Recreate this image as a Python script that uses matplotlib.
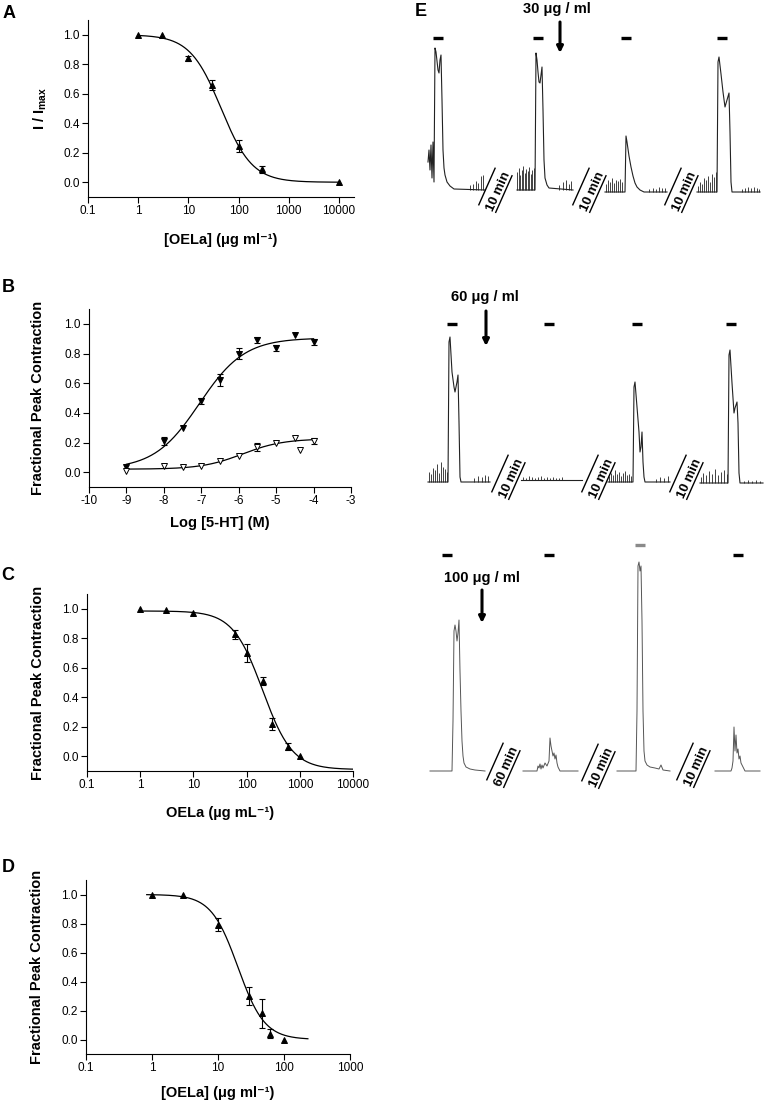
# Five-panel figure: dose-response curves (A-D) and contraction traces (E)

import numpy as np
import matplotlib
matplotlib.use("Agg")
from matplotlib import pyplot as plt
from matplotlib.ticker import FixedLocator, FixedFormatter, NullLocator

plt.rcParams['font.family'] = ['Liberation Sans', 'DejaVu Sans']
plt.rcParams['mathtext.fontset'] = 'custom'
plt.rcParams['mathtext.rm'] = 'Liberation Sans'
plt.rcParams['mathtext.bf'] = 'Liberation Sans:bold'
plt.rcParams['axes.unicode_minus'] = False

# --- DATA ---
# panel A: I / Imax against [OELa]
a_conc = [1, 3, 10, 30, 100, 300, 10000]
a_resp = [1.0, 0.995, 0.84, 0.66, 0.247, 0.087, 0.0]
a_err = [0, 0, 0.015, 0.035, 0.04, 0.025, 0]
a_fit = [1.0, 0.0, 45.0, 1.4]          # top, bottom, IC50, hill

# panel B: 5-HT concentration response, control and with OELa
b_logc = [-9, -8, -7.5, -7, -6.5, -6, -5.5, -5, -4.5, -4]
b_ctrl = [0.036, 0.21, 0.295, 0.48, 0.62, 0.80, 0.89, 0.835, 0.928, 0.876]
b_ctrl_err = [0, 0.03, 0, 0.02, 0.04, 0.04, 0.02, 0.02, 0, 0.02]
b_oela_logc = [-9, -8, -7.5, -7, -6.5, -6, -5.5, -5, -4.5, -4.35, -4]
b_oela = [0.005, 0.04, 0.035, 0.04, 0.075, 0.11, 0.17, 0.20, 0.228, 0.15, 0.21]
b_oela_err = [0, 0, 0, 0, 0, 0, 0.03, 0, 0, 0, 0.02]
b_ctrl_fit = [0.905, 0.02, -7.05, 0.72]     # top, bottom, logEC50, hill
b_oela_fit = [0.225, 0.02, -5.9, 0.8]

# panel C
c_conc = [1, 3, 10, 60, 100, 200, 300, 600, 1000]
c_resp = [1.0, 0.99, 0.97, 0.826, 0.70, 0.51, 0.22, 0.065, 0.0]
c_err = [0, 0, 0, 0.03, 0.06, 0.03, 0.04, 0.025, 0]
c_fit = [0.985, -0.09, 200.0, 1.55]

# panel D
d_conc = [1, 3, 10, 30, 46, 62, 100]
d_resp = [1.0, 1.0, 0.79, 0.30, 0.18, 0.04, 0.0]
d_err = [0, 0, 0.045, 0.065, 0.10, 0.03, 0]
d_fit = [1.0, 0.0, 20.0, 2.15]

# panel E traces: t = time offset, a = amplitude above baseline,
# st / sh = baseline spontaneous spikes (time, height)
e1a = dict(t=[0, 1, 2, 3, 4, 5, 6, 7, 8, 10, 11, 12, 13, 14, 15, 16, 17, 19, 22, 26, 57],
           a=[28, 40, 20, 45, 12, 48, 8, 142, 138, 120, 117, 130, 135, 90, 40, 22, 15, 8, 4, 1, 0],
           st=[42, 45, 48, 50, 53, 55], sh=[5, 6, 9, 7, 14, 15])
e1b = dict(t=[0, 18, 19, 20, 21, 22, 23, 24, 25, 26, 27, 28, 30, 32, 56],
           a=[0, 0, 137, 130, 118, 108, 107, 115, 123, 80, 30, 12, 5, 2, 0],
           st=[0, 1.5, 3, 4.5, 6, 7.5, 9, 10.5, 12, 13.5, 15, 16.5, 42, 46, 49, 52, 54],
           sh=[18, 22, 15, 20, 24, 17, 21, 19, 23, 16, 20, 22, 5, 8, 10, 6, 9])
e1c = dict(t=[0, 20, 21, 22, 24, 26, 28, 30, 32, 35, 39, 62],
           a=[0, 0, 56, 50, 36, 25, 16, 9, 5, 2, 0, 0],
           st=[1, 3, 5, 7, 9, 11, 13, 15, 17, 44, 48, 51, 54, 57, 60],
           sh=[8, 12, 10, 14, 9, 12, 11, 13, 10, 3, 4, 3, 5, 4, 4])
e1d = dict(t=[0, 20, 21, 22, 24, 26, 28, 30, 32, 33, 34, 35, 63],
           a=[0, 0, 130, 135, 118, 100, 85, 92, 99, 60, 10, 0, 0],
           st=[1, 3, 5, 7, 9, 11, 13, 15, 17, 19, 45, 48, 51, 54, 57, 60, 62],
           sh=[6, 10, 8, 14, 12, 16, 10, 18, 15, 20, 3, 4, 5, 4, 5, 4, 3])

e2a = dict(t=[0, 20, 21, 22, 24, 26, 27, 29, 30, 31, 32, 33, 62],
           a=[0, 0, 140, 145, 110, 95, 90, 100, 107, 60, 5, 0, 0],
           st=[1, 3, 5, 7, 9, 11, 13, 15, 17, 19, 46, 50, 54, 57, 60],
           sh=[10, 8, 14, 12, 18, 9, 20, 15, 13, 10, 4, 6, 5, 7, 6])
e2b = dict(t=[0, 61], a=[0, 0],
           st=[2, 5, 8, 11, 14, 17, 20, 23, 26, 29, 32, 35, 38, 41],
           sh=[3, 2, 4, 3, 2, 3, 4, 2, 3, 2, 3, 2, 2, 3])
e2c = dict(t=[0, 25, 26, 27, 29, 31, 32, 33, 34, 35, 36, 37, 62],
           a=[0, 0, 95, 100, 75, 50, 30, 35, 50, 20, 5, 0, 0],
           st=[1, 3, 5, 7, 9, 11, 13, 15, 17, 19, 21, 23, 48, 52, 56, 60],
           sh=[6, 9, 7, 12, 8, 10, 6, 9, 11, 7, 8, 6, 3, 5, 4, 6])
e2d = dict(t=[0, 28, 29, 30, 32, 34, 35, 37, 38, 39, 40, 63],
           a=[0, 0, 128, 133, 100, 70, 75, 81, 60, 10, 0, 0],
           st=[1, 3, 6, 9, 12, 15, 18, 21, 24, 27, 44, 48, 52, 56, 60],
           sh=[6, 10, 8, 12, 9, 14, 8, 11, 13, 9, 2, 3, 2, 3, 2])

e3a = dict(t=[0, 22, 23, 24, 25, 26, 27, 28, 29, 30, 31, 32, 33, 34, 36, 40, 45, 55],
           a=[0, 0, 50, 140, 146, 140, 130, 138, 151, 100, 60, 30, 15, 8, 4, 2, 1, 0],
           st=[], sh=[])
e3b = dict(t=[0, 14, 15, 16, 17, 18, 19, 20, 22, 24, 26, 27, 28, 29, 30, 31, 32, 33, 34, 35, 37, 55],
           a=[0, 0, 5, 3, 7, 2, 6, 3, 8, 5, 10, 33, 25, 20, 15, 18, 12, 16, 8, 4, 0, 0],
           st=[], sh=[])
e3c = dict(t=[0, 19, 20, 21, 22, 23, 24, 25, 26, 27, 28, 30, 33, 38, 42, 44, 46, 53],
           a=[0, 0, 60, 205, 209, 200, 205, 150, 60, 20, 10, 6, 4, 3, 2, 6, 1, 0],
           st=[], sh=[])
e3d = dict(t=[0, 16, 17, 18, 19, 20, 21, 22, 23, 24, 25, 26, 28, 30, 45],
           a=[0, 0, 3, 10, 44, 20, 36, 18, 22, 12, 15, 8, 4, 0, 0],
           st=[], sh=[])

e_rows = [[e1a, e1b, e1c, e1d], [e2a, e2b, e2c, e2d], [e3a, e3b, e3c, e3d]]
e_gaps = [["10 min", "10 min", "10 min"],
          ["10 min", "10 min", "10 min"],
          ["60 min", "10 min", "10 min"]]
e_doses = ["30 \u03bcg / ml", "60 \u03bcg / ml", "100 \u03bcg / ml"]

# --- LAYOUT (pixel positions in the 765 x 1104 figure) ---
W, H = 765.0, 1104.0
row_x0 = [[428, 517, 605, 697], [428, 521, 608, 700], [430, 523, 617, 715]]
row_base = [[190, 190, 192, 192], [482, 480, 482, 483], [771, 771, 771, 771]]
gap_xy = [[(497, 191), (591, 191), (683, 191)],
          [(510, 478), (600, 478), (688, 478)],
          [(505, 766), (600, 767), (695, 766)]]
bar_x = [[438, 538, 626, 722], [452, 549, 637, 731], [447, 549, 640, 738]]
bar_y = [[38, 38, 38, 38], [324, 324, 324, 324], [555, 555, 545, 555]]
bar_col = [['k'] * 4, ['k'] * 4, ['k', 'k', '#8a8a8a', 'k']]
dose_xy = [(557, 9), (485, 297), (482, 578)]
arrow_pos = [(560, 22, 53), (486, 311, 346), (482, 590, 623)]
trace_col = ['#222222', '#222222', '#555555']
trace_lw = [0.8, 0.8, 0.7]


def pix_axes(left, top, right, bottom):
	return fig.add_axes([left / W, 1 - bottom / H, (right - left) / W, (bottom - top) / H])


def hill_down(x, p):
	top, bot, ic50, n = p
	return bot + (top - bot) / (1 + (x / ic50) ** n)


def hill_log(lx, p):
	top, bot, lec, n = p
	return bot + (top - bot) / (1 + 10 ** ((lec - lx) * n))


def style_axes(ax):
	ax.spines['top'].set_visible(False)
	ax.spines['right'].set_visible(False)
	for s in ['left', 'bottom']:
		ax.spines[s].set_linewidth(0.8)
	ax.set_ylim(-0.1, 1.1)
	ax.set_yticks([0.0, 0.2, 0.4, 0.6, 0.8, 1.0])
	ax.set_yticklabels(['0.0', '0.2', '0.4', '0.6', '0.8', '1.0'])


def tick_style(ax):
	ax.tick_params(direction='out', length=4, width=0.8, pad=2)
	ax.tick_params(axis='x', labelsize=8.5)
	ax.tick_params(axis='y', labelsize=8.5)


def log_ticks(ax, lo, hi, labels):
	ax.set_xscale('log')
	ax.set_xlim(lo, hi)
	decades = [float(l) for l in labels]
	ax.xaxis.set_major_locator(FixedLocator(decades))
	ax.xaxis.set_major_formatter(FixedFormatter(labels))
	ax.xaxis.set_minor_locator(NullLocator())


def points(ax, x, y, err, marker, filled=True):
	x = np.array(x, float)
	y = np.array(y, float)
	err = np.array(err, float)
	m = err > 0
	ax.errorbar(x[m], y[m], yerr=err[m], fmt='none', ecolor='k', elinewidth=0.8,
				capsize=2.5, capthick=0.8, zorder=3)
	ax.plot(x, y, marker, ms=4.5, color='k', mfc='k' if filled else 'white',
			mec='k', mew=0.7, ls='none', zorder=4)


def labels(ax, xl, yl, ly, yx):
	ax.set_xlabel(xl, fontsize=10.5, fontweight='bold')
	ax.set_ylabel(yl, fontsize=10.5, fontweight='bold')
	ax.xaxis.set_label_coords(0.5, ly)
	ax.yaxis.set_label_coords(yx, 0.5)
	ax.xaxis.label.set_va('center')
	ax.yaxis.label.set_va('center')


fig = plt.figure(figsize=(W / 100, H / 100), dpi=100)
fig.patch.set_facecolor('w')

# --- PANEL A ---
axA = pix_axes(88, 20, 354, 197)
style_axes(axA)
log_ticks(axA, 0.1, 20000, ['0.1', '1', '10', '100', '1000', '10000'])
tick_style(axA)
xs = np.logspace(0, 4, 300)
axA.plot(xs, hill_down(xs, a_fit), color='k', lw=0.9)
points(axA, a_conc, a_resp, a_err, '^')
labels(axA, '[OELa] (\u03bcg ml\u207b\u00b9)', r'I / I$_{\mathbf{max}}$', -0.243, -0.18)

# --- PANEL B ---
axB = pix_axes(89, 309, 351, 487)
style_axes(axB)
axB.set_xlim(-10, -3)
axB.set_xticks([-10, -9, -8, -7, -6, -5, -4, -3])
tick_style(axB)
xs = np.linspace(-9, -4, 300)
axB.plot(xs, hill_log(xs, b_ctrl_fit), color='k', lw=0.9)
axB.plot(xs, hill_log(xs, b_oela_fit), color='k', lw=0.9)
points(axB, b_logc, b_ctrl, b_ctrl_err, 'v')
points(axB, b_oela_logc, b_oela, b_oela_err, 'v', filled=False)
labels(axB, 'Log [5-HT] (M)', 'Fractional Peak Contraction', -0.202, -0.195)

# --- PANEL C ---
axC = pix_axes(87, 594, 353, 771)
style_axes(axC)
log_ticks(axC, 0.1, 10000, ['0.1', '1', '10', '100', '1000', '10000'])
tick_style(axC)
xs = np.logspace(0, 4, 300)
axC.plot(xs, hill_down(xs, c_fit), color='k', lw=0.9)
points(axC, c_conc, c_resp, c_err, '^')
labels(axC, 'OELa (\u00b5g mL\u207b\u00b9)', 'Fractional Peak Contraction', -0.237, -0.184)

# --- PANEL D ---
axD = pix_axes(86, 880, 350, 1054)
style_axes(axD)
log_ticks(axD, 0.1, 1000, ['0.1', '1', '10', '100', '1000'])
tick_style(axD)
xs = np.logspace(-0.08, np.log10(230), 300)
axD.plot(xs, hill_down(xs, d_fit), color='k', lw=0.9)
points(axD, d_conc, d_resp, d_err, '^')
labels(axD, '[OELa] (\u03bcg ml\u207b\u00b9)', 'Fractional Peak Contraction', -0.225, -0.186)

# --- PANEL E ---
axE = pix_axes(400, 0, 765, 830)
axE.set_xlim(400, 765)
axE.set_ylim(830, 0)
axE.axis('off')

ang = np.radians(66)
dvec = np.array([np.cos(ang), -np.sin(ang)])
nvec = np.array([-np.sin(ang), -np.cos(ang)])

for r in range(3):
	for k, tr in enumerate(e_rows[r]):
		x0 = row_x0[r][k]
		base = row_base[r][k]
		axE.plot(x0 + np.array(tr['t'], float), base - np.array(tr['a'], float),
				 color=trace_col[r], lw=trace_lw[r])
		if tr['st']:
			axE.vlines(x0 + np.array(tr['st'], float), base, base - np.array(tr['sh'], float),
					   color=trace_col[r], lw=0.6)
	for k, txt in enumerate(e_gaps[r]):
		xc, yc = gap_xy[r][k]
		c = np.array([xc, yc], float)
		axE.text(xc, yc, txt, rotation=66, ha='center', va='center_baseline',
				 fontsize=9.5, fontweight='bold', rotation_mode='anchor')
		for s, off in [(-1, 7.5), (1, 11)]:
			p0 = c + s * off * nvec - 20 * dvec
			p1 = c + s * off * nvec + 20 * dvec
			axE.plot([p0[0], p1[0]], [p0[1], p1[1]], color='k', lw=1.0)
	for k in range(len(bar_x[r])):
		axE.plot([bar_x[r][k] - 5, bar_x[r][k] + 5], [bar_y[r][k], bar_y[r][k]],
				 color=bar_col[r][k], lw=2.4, solid_capstyle='butt')
	axE.text(dose_xy[r][0], dose_xy[r][1], e_doses[r], ha='center', va='center',
			 fontsize=10.5, fontweight='bold')
	ax_x, ay0, ay1 = arrow_pos[r]
	axE.annotate('', xy=(ax_x, ay1), xytext=(ax_x, ay0),
				 arrowprops=dict(arrowstyle='-|>', lw=2.2, color='k', mutation_scale=9,
								 shrinkA=0, shrinkB=0))

# panel letters
for lab, (px, py) in zip('ABCDE', [(9, 13), (8, 288), (8, 576), (8, 867), (421, 12)]):
	fig.text(px / W, 1 - py / H, lab, fontsize=13, fontweight='bold', ha='center', va='center')

fig.savefig('out.png', dpi=100)
